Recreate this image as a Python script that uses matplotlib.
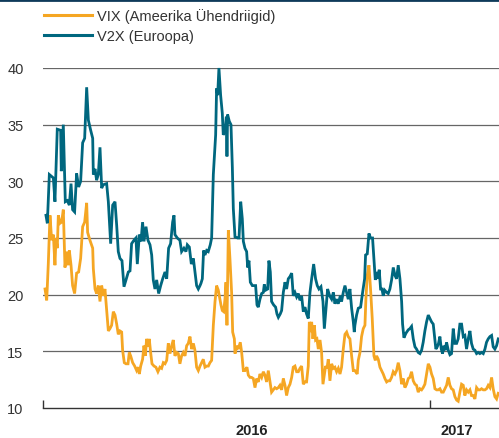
import matplotlib
matplotlib.use("Agg")
import matplotlib.pyplot as plt
from matplotlib.lines import Line2D

plt.rcParams['font.family'] = ['Liberation Sans', 'DejaVu Sans']

# days since 2016-01-01
vix_days = [1.9, 3.5, 5.0, 6.6, 8.2, 9.8, 11.3, 12.3, 13.5, 14.5, 16.1, 17.6, 19.2, 20.8, 22.4, 23.9, 24.9, 26.5, 28.0, 29.9,
            31.8, 33.7, 35.6, 37.5, 39.4, 41.3, 42.2, 44.4, 47.0, 47.6, 49.2, 50.7, 52.3, 53.9, 55.5, 57.0, 58.6, 60.2, 61.8, 63.3,
            64.9, 66.5, 68.1, 69.7, 71.2, 72.8, 74.4, 75.3, 76.9, 78.5, 80.4, 81.6, 82.9, 84.8, 86.7, 88.6, 90.1, 91.1, 92.4, 94.2,
            95.5, 96.8, 98.0, 99.6, 100.5, 101.8, 103.1, 105.0, 106.8, 108.7, 110.6, 112.2, 113.8, 115.4, 117.0, 118.5, 120.1, 121.7, 123.2, 124.8,
            126.4, 128.0, 129.5, 131.1, 132.7, 134.3, 135.9, 137.4, 139.0, 140.6, 142.2, 143.7, 145.3, 146.9,
            148.5, 150.1, 151.6, 153.2, 154.8, 156.4, 157.9, 159.5, 161.1, 162.7, 164.2, 165.8, 167.4, 168.3, 169.6, 170.9, 172.1, 173.1, 174.0, 175.3,
            176.8, 178.4, 179.4, 181.0, 181.6, 183.5, 184.7, 186.6, 187.9, 189.5, 191.0, 192.9, 194.2, 195.8, 197.3, 198.9, 200.5, 202.1, 203.6, 205.2,
            206.8, 208.4, 209.9, 211.5, 213.1, 214.7, 216.2, 217.8, 219.4, 221.0, 222.6, 224.1, 225.7, 227.3, 228.9, 230.4, 232.0, 233.6, 235.2, 236.7,
            238.3, 239.9, 241.5, 243.0, 244.6, 246.2, 247.8, 249.3, 250.9, 251.9, 253.1, 254.1, 255.3, 256.6, 257.8, 259.1, 260.4, 262.0, 263.5, 264.8,
            266.0, 267.3, 268.6, 269.8, 271.4, 273.0, 274.6, 276.1, 277.7, 279.3, 280.9, 282.4, 284.0, 285.6, 287.2, 288.7, 290.3, 291.9, 293.5,
            295.0, 297.2, 298.2, 299.8, 301.3, 302.9, 304.5, 305.4, 306.7, 308.3, 309.8, 311.4, 313.0, 314.3, 315.5, 317.1, 318.7, 320.2, 321.8, 323.4,
            325.0, 326.5, 328.1, 329.7, 331.3, 332.9, 334.4, 336.0, 337.6, 339.2, 340.7, 342.3, 343.9, 345.5, 347.0, 348.6, 350.2, 351.8, 353.3, 354.9,
            356.5, 358.1, 359.6, 361.2, 362.8, 364.4, 366.0, 367.5, 369.1, 370.7, 372.3, 373.8, 375.4, 377.0, 378.6, 380.1, 381.7, 383.3, 384.9, 386.4,
            388.0, 389.6, 391.2, 392.7, 394.3, 395.9, 397.5, 399.0, 400.6, 402.2, 403.8, 405.3, 406.9, 408.5, 410.1, 411.7, 413.2, 414.8, 416.4, 418.0,
            419.5, 421.1, 422.7, 424.3, 425.8, 427.4, 429.0, 430.6]
vix_vals = [20.5, 19.5, 22.7, 27.0, 24.8, 25.3, 22.6, 25.0, 24.1, 27.0, 26.3, 26.4, 27.5, 22.4, 23.8, 22.6, 23.9, 22.6, 20.8, 20.1,
            21.9, 22.0, 23.2, 26.0, 26.4, 28.1, 25.5, 24.8, 24.1, 22.3, 20.5, 20.1, 20.8, 19.4, 20.8, 19.9, 20.5, 18.6, 16.8, 17.0,
            17.3, 18.5, 18.2, 17.4, 16.5, 16.8, 16.7, 15.1, 14.0, 13.9, 13.9, 14.9, 14.6, 14.0, 13.7, 13.3, 13.6, 13.0, 13.7, 14.3,
            15.5, 14.6, 16.1, 15.4, 16.1, 14.9, 13.9, 13.7, 13.6, 13.2, 13.6, 13.5, 14.0, 13.9, 14.2, 15.7, 14.8, 15.5, 16.0, 14.6,
            14.9, 14.8, 13.9, 14.6, 14.9, 14.6, 15.5, 15.7, 16.3, 15.2, 15.7, 15.1, 13.6, 13.3,
            13.7, 14.0, 14.3, 13.6, 13.7, 13.7, 14.0, 14.2, 17.3, 19.4, 20.8, 20.4, 19.6, 19.1, 18.6, 18.5, 19.6, 21.1, 17.3, 25.7,
            23.2, 20.2, 16.7, 16.1, 14.8, 15.5, 15.2, 15.8, 14.9, 13.3, 13.3, 13.6, 12.9, 12.7, 12.7, 12.6, 11.8, 12.6, 12.3, 13.0,
            12.7, 13.2, 12.9, 12.3, 13.3, 12.3, 11.4, 11.6, 11.8, 11.7, 11.8, 12.0, 11.6, 12.6, 12.0, 11.1, 11.8, 12.1, 12.7, 13.6,
            13.7, 13.2, 13.2, 13.5, 13.7, 12.1, 12.3, 12.3, 13.7, 17.6, 16.7, 17.6, 16.1, 17.3, 16.0, 16.1, 15.2, 16.0, 14.9, 12.1,
            12.9, 13.7, 13.5, 14.3, 12.4, 13.9, 13.5, 13.6, 13.2, 13.5, 13.0, 13.6, 15.2, 16.5, 16.7, 16.3, 16.1, 14.6, 13.3,
            13.3, 13.0, 14.2, 14.9, 16.3, 17.0, 17.3, 19.6, 21.7, 22.6, 20.5, 17.9, 14.6, 14.2, 14.6, 14.3, 13.6, 13.3, 13.0, 12.6,
            12.3, 12.4, 12.4, 12.7, 13.2, 13.0, 13.3, 14.0, 13.3, 12.1, 12.6, 11.8, 12.1, 12.6, 12.7, 13.2, 12.4, 12.1, 12.0, 11.4,
            11.7, 11.6, 11.8, 12.1, 13.0, 13.9, 13.6, 13.0, 12.6, 11.7, 11.6, 11.6, 11.7, 11.4, 11.4, 11.7, 12.0, 12.7, 12.0, 11.7,
            11.6, 11.0, 10.7, 10.6, 11.4, 12.1, 12.0, 11.1, 11.6, 11.4, 11.6, 11.1, 11.1, 10.8, 11.8, 11.6, 11.6, 11.7, 11.6, 11.6,
            11.7, 12.0, 11.8, 12.7, 11.7, 11.0, 10.8, 11.3]

v2x_days = [2.8, 4.1, 6.0, 9.8, 11.3, 13.5, 16.7, 17.3, 19.2, 21.1, 23.0, 24.9, 26.5, 28.0, 29.9, 31.8, 33.7, 35.6, 37.5, 39.4,
            41.3, 42.9, 45.1, 47.0, 47.6, 49.2, 50.7, 52.3, 53.9, 55.5, 57.0, 60.2, 61.8, 64.0, 65.9, 68.1, 69.7, 71.2, 72.8, 74.7,
            76.6, 78.5, 80.7, 82.3, 83.8, 86.0, 87.9, 89.2, 91.1, 92.7, 94.2, 95.5, 97.4, 99.3, 101.2, 102.8, 104.3, 105.9, 107.5, 109.4,
            111.3, 113.2, 115.4, 117.0, 118.8, 120.7, 122.6, 123.9, 124.8, 127.0, 129.5, 131.1, 133.3, 135.2, 136.5, 138.4, 140.3, 142.2, 143.7, 145.3,
            146.9, 148.5, 149.4, 150.7, 151.9, 153.2, 154.8, 156.3, 158.2, 159.5, 161.1, 163.3, 164.2, 165.2, 166.4, 168.0, 169.6, 170.5, 172.1, 173.4,
            174.0, 174.6, 176.2, 177.8, 179.1, 180.0, 181.6, 184.1, 185.4, 187.0, 188.5, 189.5, 191.0, 192.6, 193.6, 194.8, 196.1, 198.0, 199.9, 201.1,
            202.4, 203.6, 205.2, 206.8, 208.4, 209.3, 210.6, 212.5, 213.7, 215.0, 216.2, 218.1, 220.0, 221.3, 222.6, 224.4, 225.7, 227.3, 228.9, 230.4,
            232.0, 233.6, 235.2, 236.7, 238.3, 239.9, 241.5, 243.0, 244.6, 246.2, 247.8, 249.3, 250.9, 252.5, 254.1, 256.0, 257.8, 259.4, 261.0, 262.9,
            264.8, 266.1, 268.0, 269.2, 271.1, 273.0, 274.6, 276.1, 277.7, 279.3, 281.2, 282.4, 284.0, 285.6, 287.2, 288.7, 290.3, 291.9, 293.5, 294.4,
            295.0, 296.6, 298.2, 300.4, 302.3, 304.2, 305.1, 306.7, 308.3, 309.8, 311.7, 313.0, 314.3, 315.5, 317.1, 318.0, 319.3, 320.6, 321.8, 323.1,
            325.0, 326.5, 328.1, 329.7, 331.3, 332.9, 334.4, 336.0, 337.6, 339.2, 340.1, 341.4, 343.3, 345.5, 347.0, 348.6, 350.2, 351.8, 353.3, 354.9,
            356.5, 358.1, 359.6, 361.2, 362.8, 364.4, 366.0, 367.5, 369.1, 370.7, 371.6, 372.9, 374.1, 375.4, 376.7, 377.9, 379.2, 380.4, 381.7, 383.3,
            384.9, 386.4, 388.0, 389.6, 391.2, 392.7, 394.3, 395.9, 397.5, 399.0, 400.6, 402.2, 403.8, 405.3, 406.9, 408.5, 410.1, 411.7, 413.2, 414.8,
            416.4, 418.0, 419.5, 421.1, 422.7, 424.3, 425.8, 427.4, 429.0, 430.6]
v2x_vals = [27.0, 26.3, 30.6, 30.3, 28.2, 34.6, 34.5, 30.9, 35.0, 28.2, 28.3, 27.9, 29.8, 27.5, 27.3, 30.7, 29.5, 30.0, 33.4, 33.8,
            38.3, 35.4, 34.5, 33.8, 30.6, 31.1, 30.1, 30.6, 33.0, 29.4, 29.7, 29.8, 28.2, 24.5, 27.9, 28.2, 26.1, 23.8, 23.2, 23.0,
            20.7, 21.3, 22.0, 22.1, 24.5, 24.8, 25.0, 22.7, 25.3, 24.7, 26.4, 24.7, 26.0, 24.8, 24.4, 23.5, 21.3, 20.5, 21.3, 20.1,
            20.8, 21.4, 22.0, 21.4, 24.1, 24.5, 26.4, 27.0, 25.3, 25.0, 24.8, 23.8, 24.1, 23.8, 24.4, 24.2, 22.7, 23.2, 22.0, 20.8,
            20.5, 20.8, 21.0, 21.4, 23.9, 23.5, 23.9, 23.8, 24.4, 25.0, 30.6, 34.1, 38.2, 37.6, 40.0, 37.6, 36.0, 34.1, 34.4, 35.7,
            32.2, 35.9, 35.3, 35.0, 31.2, 27.6, 25.1, 25.0, 25.0, 28.2, 26.7, 24.7, 24.1, 23.8, 22.4, 23.0, 21.1, 20.8, 20.8, 20.8,
            19.1, 18.9, 19.6, 20.1, 20.2, 20.9, 20.4, 20.5, 23.0, 22.0, 19.4, 19.1, 18.9, 18.3, 18.0, 18.3, 18.6, 20.2, 21.1, 20.5,
            21.4, 21.6, 21.9, 19.9, 20.2, 19.8, 20.1, 19.5, 19.9, 18.5, 18.9, 18.3, 17.9, 20.2, 21.4, 22.7, 21.4, 20.8, 20.5, 20.7,
            19.4, 17.0, 19.1, 20.5, 19.9, 19.6, 20.2, 19.2, 19.6, 19.2, 19.9, 19.4, 20.2, 20.8, 20.2, 19.6, 20.5, 18.8, 17.6, 16.7,
            17.3, 18.2, 18.8, 18.9, 20.2, 21.4, 23.5, 23.6, 25.4, 25.0, 25.0, 23.2, 21.3, 22.0, 21.4, 22.2, 20.5, 20.5, 19.9, 20.4,
            20.2, 20.1, 20.5, 21.3, 22.4, 21.7, 21.4, 22.6, 21.4, 19.4, 17.4, 16.2, 16.6, 16.9, 17.0, 17.2, 16.1, 15.4, 15.2, 14.9,
            14.8, 15.1, 15.8, 16.8, 17.6, 18.2, 17.9, 17.6, 17.4, 16.0, 15.2, 15.4, 15.7, 16.3, 15.2, 14.8, 15.5, 15.1, 15.8, 15.1,
            14.7, 14.8, 17.0, 15.7, 15.7, 16.1, 17.4, 17.4, 16.3, 16.4, 15.2, 16.1, 16.8, 15.7, 15.2, 15.1, 14.8, 14.9, 14.8, 14.9,
            14.8, 15.2, 15.8, 16.1, 16.3, 16.4, 15.4, 15.2, 15.5, 16.1]

series_labels = ["VIX (Ameerika Ühendriigid)", "V2X (Euroopa)"]
y_ticks = [10, 15, 20, 25, 30, 35, 40]
year_ticks = [0, 366]          # 2016-01-01, 2017-01-01
year_labels = ["2016", "2017"]
year_label_days = [197.5, 391.5]

ORANGE = "#F5A623"
TEAL = "#00677F"

W, H = 499, 439
fig = plt.figure(figsize=(W / 100, H / 100), dpi=100)
ax = fig.add_axes([43 / W, (H - 409) / H, (W - 43) / W, 340 / H])

ax.plot(vix_days, vix_vals, color=ORANGE, lw=2.0, solid_joinstyle='miter', clip_on=False, zorder=3)
ax.plot(v2x_days, v2x_vals, color=TEAL, lw=2.0, solid_joinstyle='miter', clip_on=False, zorder=4)

ax.set_xlim(0, 431.3)
ax.set_ylim(10, 40)

for s in ['top', 'right', 'left']:
    ax.spines[s].set_visible(False)
ax.spines['bottom'].set_color('#333333')
ax.spines['bottom'].set_linewidth(1.0)

ax.set_yticks(y_ticks)
ax.set_yticklabels([str(t) for t in y_ticks])
ax.tick_params(axis='y', length=0, pad=14, labelsize=10.5, labelcolor='#333333')
for yv in y_ticks[1:]:
    ax.axhline(yv, color='#666666', lw=0.9, zorder=1)

ax.set_xticks(year_ticks)
ax.set_xticklabels([])
ax.tick_params(axis='x', direction='in', length=6, width=1, color='#333333')
ax.set_xticks(year_label_days, minor=True)
ax.set_xticklabels(year_labels, minor=True, fontweight='bold', fontsize=10.5, color='#222222')
ax.tick_params(axis='x', which='minor', length=0, pad=11)

handles = [Line2D([], [], color=ORANGE, lw=2.2), Line2D([], [], color=TEAL, lw=2.2)]
fig.legend(handles, series_labels, loc='upper left', bbox_to_anchor=(44 / W, 1 - 9 / H),
           frameon=False, fontsize=10.5, handlelength=3.3, handletextpad=0.35, labelspacing=0.42,
           borderpad=0, borderaxespad=0, labelcolor='#333333')

fig.add_artist(Line2D([0, 1], [1 - 1 / H, 1 - 1 / H], transform=fig.transFigure, color='#0E3A5A', lw=2.0))

fig.savefig("out.png", dpi=100)
